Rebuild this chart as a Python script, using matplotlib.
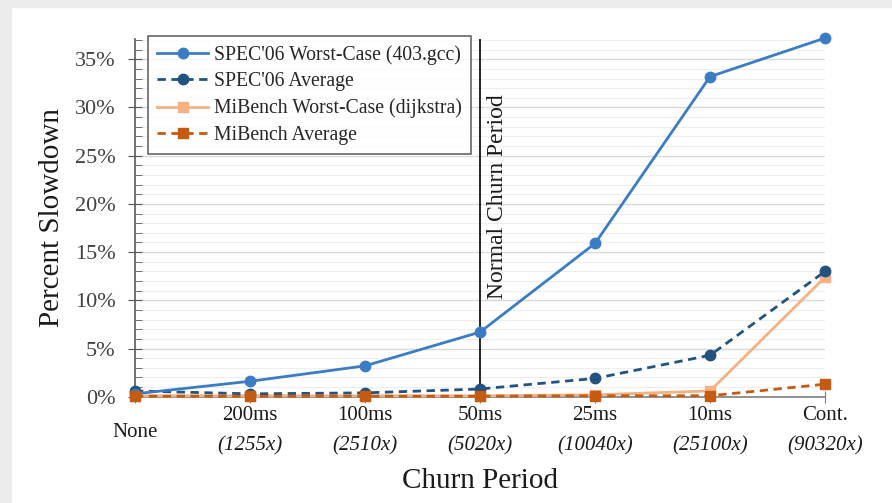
import matplotlib
matplotlib.use("Agg")
import matplotlib.pyplot as plt
from matplotlib.ticker import MultipleLocator, FuncFormatter
from matplotlib.patches import Rectangle
import matplotlib.transforms as mtransforms

plt.rcParams['font.family'] = ['Liberation Serif', 'DejaVu Serif']

periods = ["None", "200ms", "100ms", "50ms", "25ms", "10ms", "Cont."]
factors = ["", "(1255x)", "(2510x)", "(5020x)", "(10040x)", "(25100x)", "(90320x)"]

spec_worst = [0.3, 1.6, 3.2, 6.7, 15.9, 33.2, 37.2]
spec_avg = [0.6, 0.3, 0.4, 0.8, 1.9, 4.3, 13.0]
mi_worst = [0.1, 0.1, 0.1, 0.1, 0.2, 0.6, 12.4]
mi_avg = [0.05, 0.05, 0.05, 0.05, 0.1, 0.1, 1.3]

fig = plt.figure(figsize=(8.92, 5.03), dpi=100)
fig.patch.set_facecolor('white')
# light frame shadow
fig.patches.append(Rectangle((0, 0), 0.012, 1, transform=fig.transFigure, color='#ececec', zorder=0))
fig.patches.append(Rectangle((0, 0.986), 1, 0.014, transform=fig.transFigure, color='#ececec', zorder=0))

ax = fig.add_axes([0.1513, 0.2113, 0.7737, 0.7112])
x = list(range(len(periods)))

ax.plot(x, spec_worst, '-', color='#3b7dc4', lw=2, marker='o', ms=7.5, label="SPEC'06 Worst-Case (403.gcc)", zorder=5, clip_on=False)
ax.plot(x, spec_avg, '--', color='#22527f', lw=2, marker='o', ms=7.5, label="SPEC'06 Average", zorder=4, dashes=(3, 2), clip_on=False)
ax.plot(x, mi_worst, '-', color='#f4b183', lw=2, marker='s', ms=7.5, label="MiBench Worst-Case (dijkstra)", zorder=3, clip_on=False)
ax.plot(x, mi_avg, '--', color='#c55a11', lw=2, marker='s', ms=7.5, label="MiBench Average", zorder=6, dashes=(3, 2), clip_on=False)

ax.set_xlim(0, 6)
ax.set_ylim(0, 37.1)
ax.yaxis.set_major_locator(MultipleLocator(5))
ax.yaxis.set_minor_locator(MultipleLocator(1))
ax.yaxis.set_major_formatter(FuncFormatter(lambda v, p: f"{int(round(v))}%"))
ax.grid(axis='y', which='major', color='#d9d9d9', lw=1)
ax.grid(axis='y', which='minor', color='#eeeeee', lw=0.8)
ax.set_axisbelow(True)

for s in ['top', 'right']:
    ax.spines[s].set_visible(False)
ax.spines['left'].set_color('#595959')
ax.spines['bottom'].set_color('#7f7f7f')
ax.spines['left'].set_linewidth(1.2)
ax.spines['bottom'].set_linewidth(1.2)
ax.tick_params(axis='y', which='major', direction='inout', length=10, color='#595959', labelsize=16, labelcolor='#404040', pad=9)
ax.tick_params(axis='y', which='minor', direction='in', length=5, color='#595959')
ax.set_xticks(x)
ax.set_xticklabels([])
ax.tick_params(axis='x', direction='inout', length=8, color='#7f7f7f')

# x tick labels
trans = mtransforms.blended_transform_factory(ax.transData, ax.transAxes)
for i, (p, f) in enumerate(zip(periods, factors)):
    if f:
        ax.text(i, -0.052, p, transform=trans, ha='center', va='center', fontsize=15, color='#1a1a1a')
        ax.text(i, -0.137, f, transform=trans, ha='center', va='center', fontsize=15, style='italic', color='#1a1a1a')
    else:
        ax.text(i, -0.1, p, transform=trans, ha='center', va='center', fontsize=15, color='#1a1a1a')

ax.set_xlabel("Churn Period", fontsize=21, labelpad=44, color='#1a1a1a')
ax.set_ylabel("Percent Slowdown", fontsize=21, labelpad=7, color='#1a1a1a')

ax.axvline(3, color='black', lw=1.2, zorder=2)
ax.text(3.06, 20.7, "Normal Churn Period", rotation=90, ha='left', va='center', fontsize=17, color='#1a1a1a',
        transform=ax.transData)

leg = ax.legend(loc='upper left', bbox_to_anchor=(0.019, 1.008), borderaxespad=0, fontsize=14.2, frameon=True, fancybox=False,
                edgecolor='#404040', handlelength=2.6, borderpad=0.45, labelspacing=0.38, handletextpad=0.3)
leg.get_frame().set_linewidth(1.2)
for t in leg.get_texts():
    t.set_color('#262626')

fig.savefig("out.png", dpi=100)
